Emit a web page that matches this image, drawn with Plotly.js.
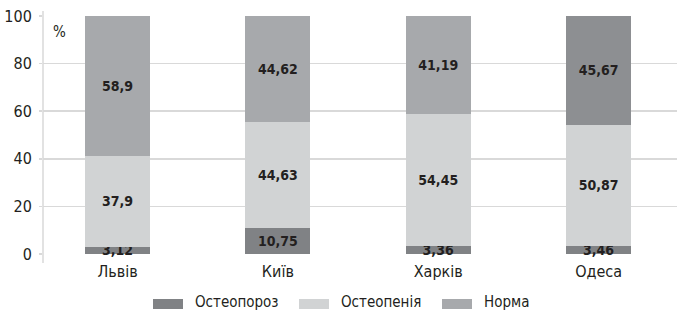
<!DOCTYPE html>
<html>
<head>
<meta charset="utf-8">
<script src="https://cdn.plot.ly/plotly-3.0.1.min.js"></script>
<style>
  html, body { margin: 0; padding: 0; background: #fff; }
  #chart { width: 677px; height: 311px; }
</style>
</head>
<body>
<div id="chart"></div>
<script>
// ---- data ----
const cities = ["Львів", "Київ", "Харків", "Одеса"];
const seriesNames = ["Остеопороз", "Остеопенія", "Норма"];
// drawn segment heights
const osteoporosis = [3.12, 10.75, 3.36, 3.46];
const osteopenia = [37.9, 44.63, 55.45, 50.87];
const norma = [58.9, 44.62, 41.19, 45.67];
// value labels as printed on the bars
const osteoporosisLabels = ["3,12", "10,75", "3,36", "3,46"];
const osteopeniaLabels = ["37,9", "44,63", "54,45", "50,87"];
const normaLabels = ["58,9", "44,62", "41,19", "45,67"];
const yTicks = [0, 20, 40, 60, 80, 100];

// ---- styles ----
const FONT = '"DejaVu Sans Condensed", "Liberation Sans", sans-serif';
const TEXT = '#231f20';
const colOsteoporosis = '#808285';
const colOsteopenia = '#d1d3d4';
const colNorma = '#a7a9ac';
const colNormaAlt = '#8d8f92';
const seriesColors = [colOsteoporosis, colOsteopenia, colNorma];

const W = 677, H = 311;
const M = { l: 43, r: 0, t: 16, b: 57 };
const plotW = W - M.l - M.r, plotH = H - M.t - M.b;
const px2x = p => (p - M.l) / plotW;
const py2y = p => (H - M.b - p) / plotH;

function barTrace(name, values, labels, color) {
  return {
    type: 'bar',
    name: name,
    x: cities,
    y: values,
    width: 0.405,
    marker: { color: color, line: { width: 0 } },
    text: labels,
    textposition: 'inside',
    insidetextanchor: 'middle',
    constraintext: 'none',
    textfont: { family: FONT, size: 14, color: TEXT, weight: 'bold' },
    hoverinfo: 'x+y+name',
    showlegend: false,
    cliponaxis: false
  };
}

const normaColors = cities.map((c, i) => i === cities.length - 1 ? colNormaAlt : colNorma);

const data = [
  barTrace(seriesNames[0], osteoporosis, osteoporosisLabels, colOsteoporosis),
  barTrace(seriesNames[1], osteopenia, osteopeniaLabels, colOsteopenia),
  barTrace(seriesNames[2], norma, normaLabels, normaColors)
];

// custom legend (wide swatches)
const legendSwatchX = [153, 299, 442];
const legendY = 302;
const shapes = [];
const annotations = [];
seriesNames.forEach((n, i) => {
  shapes.push({
    type: 'rect', xref: 'paper', yref: 'paper',
    x0: px2x(legendSwatchX[i]), x1: px2x(legendSwatchX[i] + 30),
    y0: py2y(legendY + 7), y1: py2y(legendY - 3),
    fillcolor: seriesColors[i], line: { width: 0 }
  });
  annotations.push({
    xref: 'paper', yref: 'paper',
    x: px2x(legendSwatchX[i] + 41), y: py2y(legendY),
    xanchor: 'left', yanchor: 'middle',
    text: n, showarrow: false,
    borderpad: 0,
    font: { family: FONT, size: 15, color: TEXT }
  });
});
// y-axis line extending slightly beyond plot
shapes.push({
  type: 'line', xref: 'paper', yref: 'paper',
  x0: 0, x1: 0, y0: py2y(263), y1: py2y(11),
  line: { color: '#d9d9d9', width: 1.5 }
});
// % unit label
annotations.push({
  xref: 'paper', yref: 'paper',
  x: px2x(51), y: py2y(32),
  xanchor: 'left', yanchor: 'middle',
  text: '%', showarrow: false,
  font: { family: FONT, size: 15, color: TEXT }
});

const layout = {
  width: W, height: H,
  margin: M,
  paper_bgcolor: '#ffffff',
  plot_bgcolor: '#ffffff',
  barmode: 'stack',
  showlegend: false,
  font: { family: FONT, color: TEXT, size: 15 },
  xaxis: {
    type: 'category',
    range: [-0.465, 3.489],
    showgrid: false,
    zeroline: false,
    showline: false,
    ticks: '',
    ticklabelstandoff: 6,
    tickfont: { family: FONT, size: 16, color: TEXT },
    fixedrange: true
  },
  yaxis: {
    range: [0, 100],
    tickvals: yTicks,
    ticktext: yTicks.map(String),
    showgrid: true,
    gridcolor: '#d9d9d9',
    gridwidth: 1.5,
    zeroline: false,
    showline: false,
    ticks: 'outside',
    ticklen: 3,
    tickcolor: '#d9d9d9',
    tickwidth: 1.5,
    ticklabelstandoff: 4,
    tickfont: { family: FONT, size: 16, color: TEXT },
    fixedrange: true
  },
  shapes: shapes,
  annotations: annotations
};

Plotly.newPlot('chart', data, layout, { displayModeBar: false, staticPlot: true });
</script>
</body>
</html>
